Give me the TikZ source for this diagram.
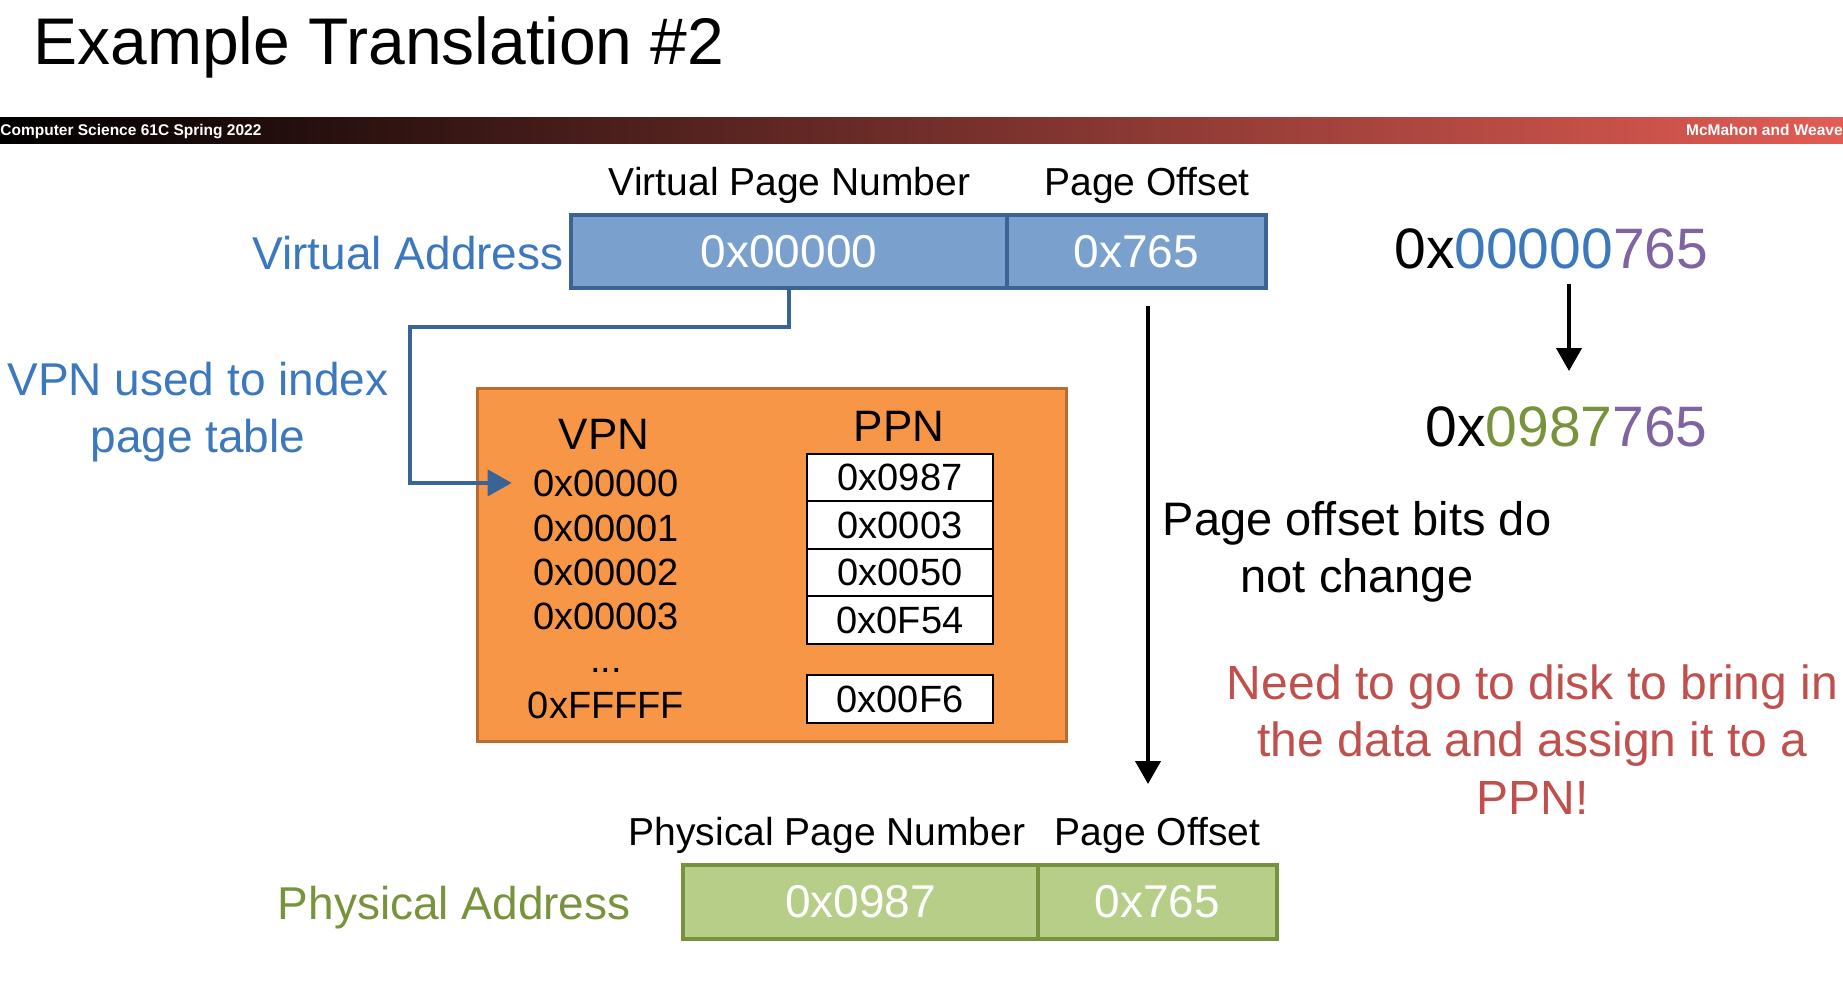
\documentclass[tikz,border=0pt]{standalone}
\usepackage{fontspec}
\setmainfont{Liberation Sans}
\usetikzlibrary{arrows.meta}

\definecolor{bannerred}{RGB}{226,92,84}
\definecolor{txtblue}{RGB}{60,120,190}
\definecolor{txtpurple}{RGB}{128,100,162}
\definecolor{txtgreen}{RGB}{119,147,60}
\definecolor{txtred}{RGB}{192,80,77}
\definecolor{vafill}{RGB}{122,160,205}
\definecolor{valine}{RGB}{59,99,150}
\definecolor{pafill}{RGB}{183,206,137}
\definecolor{paline}{RGB}{118,146,60}
\definecolor{tfill}{RGB}{247,150,70}
\definecolor{tline}{RGB}{186,108,48}
\definecolor{idxblue}{RGB}{58,99,150}

\begin{document}
\begin{tikzpicture}[x=0.5pt,y=-0.5pt,
  lbl/.style={inner sep=0pt,anchor=base,font=\fontsize{19.5pt}{23.4pt}\selectfont},
  big/.style={inner sep=0pt,font=\fontsize{23pt}{28.5pt}\selectfont},
  vfield/.style={draw=valine,fill=vafill,line width=2pt,text=white,inner sep=0pt,minimum height=36.5pt,font=\fontsize{23pt}{27pt}\selectfont},
  pfield/.style={vfield,draw=paline,fill=pafill,minimum height=37pt},
  cell/.style={draw=black,fill=white,line width=1.2pt,inner sep=0pt,minimum width=93pt,minimum height=23.75pt,font=\fontsize{19pt}{22pt}\selectfont},
  vpn/.style={inner sep=0pt,anchor=base,font=\fontsize{19pt}{22pt}\selectfont},
  head/.style={inner sep=0pt,anchor=base,font=\fontsize{22pt}{26pt}\selectfont},
  idx/.style={draw=idxblue,line width=2pt,-{Triangle[length=12pt,width=13pt]}},
  fixed/.style={line width=2pt,-{Triangle[length=11.5pt,width=12.5pt]}}]
\useasboundingbox (0,0) rectangle (1843,981);

% title and banner
\node[anchor=base west,inner sep=0pt,font=\fontsize{33pt}{40pt}\selectfont] (title) at (33,64) {Example Translation \#2};
\shade[left color=black,right color=bannerred] (0,117) rectangle (1843,143);
\node[anchor=base west,inner sep=0pt,text=white,font=\fontsize{7.75pt}{9pt}\selectfont\bfseries] (course) at (0,135) {Computer Science 61C Spring 2022};
\node[anchor=base east,inner sep=0pt,text=white,font=\fontsize{7.75pt}{9pt}\selectfont\bfseries] (staff) at (1843,135) {McMahon and Weave};

% virtual address
\node[lbl] (vpnlbl) at (789.5,195) {Virtual Page Number};
\node[lbl] (vofflbl) at (1147,195) {Page Offset};
\node[vfield,minimum width=218pt] (vpnf) at (789,251.5) {0x00000};
\node[vfield,minimum width=129.5pt] (voff) at (1136.5,251.5) {0x765};
\node[big,anchor=base east,text=txtblue] (valbl) at (564,269) {Virtual Address};
% base of a two-line node is its last line
\node[big,anchor=base,align=center,text=txtblue] (note) at (198,452) {VPN used to index\\page table};

% page table
\node[draw=tline,fill=tfill,line width=1.5pt,minimum width=294.5pt,minimum height=176.5pt] (ptable) at (771.5,564.5) {};
\node[head] (vpnhd) at (604,449) {VPN};
\node[head] (ppnhd) at (899,441) {PPN};
\node[vpn] (v0) at (606,496) {0x00000};
\node[vpn] (v1) at (606,541) {0x00001};
\node[vpn] (v2) at (606,585) {0x00002};
\node[vpn] (v3) at (606,629) {0x00003};
\node[vpn] (vdots) at (606,672) {...};
\node[vpn] (vlast) at (606,718) {0xFFFFF};
\node[cell] (p0) at (900,477.5) {0x0987};
\node[cell] (p1) at (900,525) {0x0003};
\node[cell] (p2) at (900,572.5) {0x0050};
\node[cell] (p3) at (900,620) {0x0F54};
\node[cell] (plast) at (900,699) {0x00F6};

\coordinate (turn) at (410,327);
\draw[idx] (vpnf.south) |- (turn) |- ([xshift=-10.5pt]v0.west);

% offset passes through
\coordinate (offtop) at (1148,306);
\coordinate (offbot) at (1148,784);
\draw[fixed] (offtop) -- (offbot);
\node[inner sep=0pt,anchor=base,align=center,font=\fontsize{23.5pt}{28.5pt}\selectfont] (keep) at (1357,592) {Page offset bits do\\not change};

% physical address
\node[lbl] (ppnlbl) at (827,845) {Physical Page Number};
\node[lbl] (pofflbl) at (1157.5,845) {Page Offset};
\node[pfield,minimum width=177.5pt] (ppnf) at (860.5,902) {0x0987};
\node[pfield,minimum width=119.5pt] (poff) at (1157.5,902) {0x765};
\node[big,anchor=base east,text=txtgreen] (palbl) at (631,919) {Physical Address};

% whole addresses
\node[anchor=base west,inner sep=0pt,font=\fontsize{28.5pt}{34pt}\selectfont] (vhex) at (1394,268) {0x\textcolor{txtblue}{00000}\textcolor{txtpurple}{765}};
\coordinate (hextop) at (1569,284);
\coordinate (hexbot) at (1569,371);
\draw[fixed] (hextop) -- (hexbot);
\node[anchor=base east,inner sep=0pt,font=\fontsize{28.5pt}{34pt}\selectfont] (phex) at (1708,446) {0x\textcolor{txtgreen}{0987}\textcolor{txtpurple}{765}};
\node[inner sep=0pt,anchor=base,align=center,text=txtred,font=\fontsize{24pt}{28.75pt}\selectfont] (disk) at (1532.5,814) {Need to go to disk to bring in\\the data and assign it to a\\PPN!};
\end{tikzpicture}
\end{document}
